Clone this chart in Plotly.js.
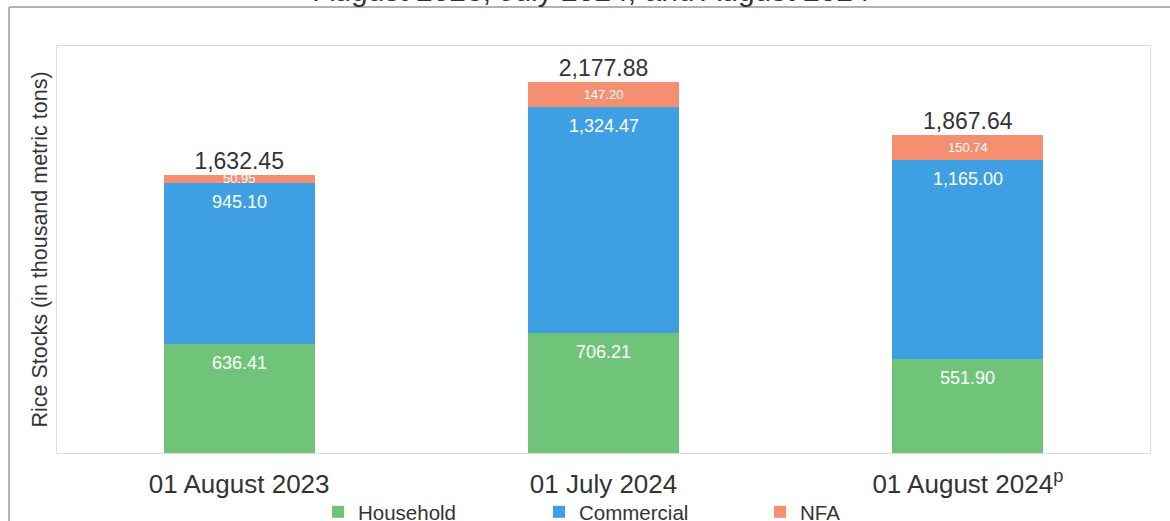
<!DOCTYPE html>
<html>
<head>
<meta charset="utf-8">
<script src="https://cdn.plot.ly/plotly-3.0.1.min.js"></script>
<style>
  html, body { margin: 0; padding: 0; background: #ffffff; }
  #chart { width: 1170px; height: 521px; }
</style>
</head>
<body>
<div id="chart"></div>
<script>
// ---- Data ----
const categories = ["01 August 2023", "01 July 2024", "01 August 2024p"];
const tickLabels = ["01 August 2023", "01 July 2024", "01 August 2024<sup>p</sup>"];
const household = [636.41, 706.21, 551.90];
const commercial = [945.10, 1324.47, 1165.00];
const nfa = [50.95, 147.20, 150.74];
const totals = [1632.45, 2177.88, 1867.64];
const seriesNames = ["Household", "Commercial", "NFA"];
const titleText = "August 2023, July 2024, and August 2024";
const yTitle = "Rice Stocks (in thousand metric tons)";

const FONT = "Liberation Sans, Arial, sans-serif";
const colors = ["#70C47A", "#3EA0E2", "#F48F72"];
const fmt = v => v.toLocaleString("en-US", { minimumFractionDigits: 2, maximumFractionDigits: 2 });

function barTrace(name, vals, color) {
  return {
    type: "bar",
    name: name,
    x: categories,
    y: vals,
    marker: { color: color, line: { width: 0 } },
    hoverinfo: "x+y+name"
  };
}

const nfaTrace = barTrace(seriesNames[2], nfa, colors[2]);
Object.assign(nfaTrace, {
  texttemplate: "%{y:,.2f}",
  textposition: "inside",
  insidetextanchor: "middle",
  constraintext: "none",
  textfont: { family: FONT, size: 13, color: "#ffffff" },
  cliponaxis: false
});

const traces = [
  barTrace(seriesNames[0], household, colors[0]),
  barTrace(seriesNames[1], commercial, colors[1]),
  nfaTrace,
  {
    type: "scatter",
    mode: "text",
    x: categories,
    y: totals,
    text: totals.map(fmt),
    textposition: "top center",
    textfont: { family: FONT, size: 23, color: "#333333" },
    marker: { size: 12, opacity: 0 },
    showlegend: false,
    cliponaxis: false,
    hoverinfo: "skip"
  }
];

// inside-end labels for Household and Commercial, anchored at each segment's top
const segLabels = [];
categories.forEach((c, i) => {
  const tops = [household[i], household[i] + commercial[i]];
  const vals = [household[i], commercial[i]];
  tops.forEach((t, k) => {
    segLabels.push({
      xref: "x", yref: "y", x: c, y: t,
      text: fmt(vals[k]),
      showarrow: false,
      yanchor: "top",
      yshift: -7,
      font: { family: FONT, size: 18, color: "#ffffff" }
    });
  });
});

// plot area: x 57..1150, y 46..453 (pixels)
const L = 57, R = 1150, T = 46, B = 453, W = 1170, H = 521;
const px = v => (v - L) / (R - L);
const py = v => (B - v) / (B - T);

const layout = {
  width: W,
  height: H,
  margin: { l: L, r: W - R, t: T, b: H - B, autoexpand: false },
  paper_bgcolor: "#ffffff",
  plot_bgcolor: "#ffffff",
  font: { family: FONT, color: "#333333" },
  barmode: "stack",
  bargap: 0.585,
  title: {
    text: titleText,
    font: { family: FONT, size: 30, color: "#333333" },
    xref: "paper",
    x: px(592),
    xanchor: "center",
    yref: "container",
    y: 1 - 1 / H,
    yanchor: "bottom"
  },
  xaxis: {
    type: "category",
    tickvals: categories,
    ticktext: tickLabels,
    tickfont: { family: FONT, size: 26, color: "#333333" },
    ticks: "outside",
    ticklen: 8,
    tickcolor: "rgba(0,0,0,0)",
    showline: true,
    linecolor: "#dcdcdc",
    linewidth: 1,
    mirror: true,
    showgrid: false,
    zeroline: false,
    automargin: false,
    fixedrange: true
  },
  yaxis: {
    range: [0, 2387],
    showticklabels: false,
    ticks: "",
    showgrid: false,
    zeroline: false,
    showline: true,
    linecolor: "#dcdcdc",
    linewidth: 1,
    mirror: true,
    automargin: false,
    title: { text: yTitle, font: { family: FONT, size: 21.5, color: "#333333" }, standoff: 2 },
    fixedrange: true
  },
  legend: {
    orientation: "h",
    x: px(318),
    xanchor: "left",
    y: py(512),
    yanchor: "middle",
    font: { family: FONT, size: 20.5, color: "#333333" },
    itemwidth: 30,
    entrywidth: 176,
    entrywidthmode: "pixels",
    traceorder: "normal",
    bgcolor: "rgba(0,0,0,0)"
  },
  annotations: segLabels,
  shapes: [
    // outer chart frame (top and left edges visible)
    { type: "line", xref: "paper", yref: "paper", x0: px(9), x1: px(1175), y0: py(7), y1: py(7),
      line: { color: "#9a9a9a", width: 1.5 } },
    { type: "line", xref: "paper", yref: "paper", x0: px(9), x1: px(9), y0: py(7), y1: py(530),
      line: { color: "#9a9a9a", width: 1.5 } }
  ],
  showlegend: true
};

Plotly.newPlot("chart", traces, layout, { displayModeBar: false, staticPlot: true });
</script>
</body>
</html>
